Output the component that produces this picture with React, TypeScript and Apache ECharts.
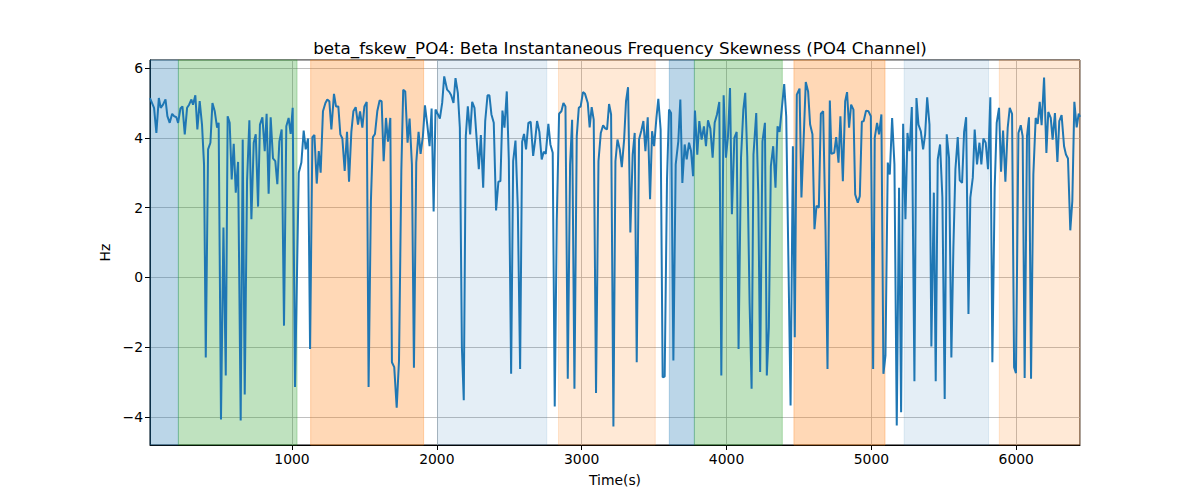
import React, { useEffect, useRef } from 'react';
import * as echarts from 'echarts';

// time axis (s) and beta fskew values (Hz)
const timeS = [
  20, 48, 64, 81, 94, 110, 127, 140, 156, 173, 186, 202, 214, 230, 244, 260, 276, 290, 306, 317,
  333, 347, 363, 379, 393, 405, 421, 437, 451, 467, 483, 494, 510, 527, 543, 556, 570, 584, 598, 612,
  628, 646, 660, 674, 690, 706, 720, 736, 750, 766, 779, 796, 812, 825, 839, 853, 869, 885, 899, 913,
  929, 945, 961, 977, 991, 1005, 1021, 1047, 1065, 1081, 1095, 1111, 1125, 1141, 1155, 1171, 1185, 1198, 1214, 1231,
  1244, 1258, 1272, 1290, 1304, 1320, 1334, 1348, 1364, 1380, 1394, 1410, 1424, 1440, 1456, 1470, 1486, 1500, 1516, 1529,
  1545, 1559, 1573, 1589, 1605, 1619, 1633, 1649, 1663, 1679, 1690, 1706, 1723, 1739, 1755, 1768, 1782, 1798, 1812, 1828,
  1842, 1858, 1874, 1888, 1904, 1918, 1934, 1950, 1964, 1978, 1991, 2008, 2021, 2037, 2051, 2071, 2087, 2099, 2115, 2129,
  2145, 2159, 2173, 2186, 2200, 2214, 2230, 2244, 2260, 2276, 2290, 2304, 2320, 2334, 2350, 2363, 2377, 2393, 2409, 2425,
  2439, 2453, 2467, 2483, 2497, 2513, 2527, 2543, 2559, 2575, 2589, 2602, 2616, 2632, 2648, 2665, 2678, 2692, 2708, 2724,
  2738, 2752, 2770, 2784, 2800, 2814, 2828, 2844, 2860, 2874, 2888, 2904, 2920, 2934, 2950, 2966, 2980, 2993, 3009, 3023,
  3042, 3055, 3069, 3083, 3099, 3116, 3132, 3148, 3162, 3175, 3189, 3203, 3219, 3233, 3247, 3263, 3277, 3293, 3306, 3320,
  3336, 3352, 3366, 3380, 3396, 3412, 3426, 3440, 3456, 3472, 3486, 3500, 3516, 3529, 3545, 3559, 3573, 3589, 3603, 3617,
  3633, 3649, 3667, 3681, 3695, 3711, 3725, 3741, 3755, 3769, 3782, 3798, 3812, 3828, 3844, 3858, 3872, 3888, 3904, 3918,
  3934, 3950, 3964, 3980, 3996, 4010, 4024, 4037, 4054, 4070, 4083, 4100, 4116, 4129, 4143, 4159, 4173, 4186, 4205, 4219,
  4232, 4248, 4265, 4278, 4292, 4306, 4322, 4338, 4352, 4366, 4382, 4398, 4412, 4425, 4442, 4458, 4471, 4485, 4504, 4517,
  4531, 4547, 4563, 4577, 4593, 4607, 4621, 4637, 4651, 4667, 4683, 4697, 4713, 4724, 4743, 4757, 4773, 4786, 4803, 4819,
  4832, 4846, 4860, 4876, 4888, 4906, 4920, 4934, 4947, 4963, 4980, 4996, 5012, 5023, 5039, 5053, 5069, 5083, 5097, 5113,
  5127, 5143, 5159, 5175, 5191, 5205, 5219, 5235, 5249, 5263, 5279, 5297, 5311, 5325, 5341, 5357, 5371, 5385, 5401, 5414,
  5431, 5444, 5458, 5474, 5490, 5506, 5520, 5536, 5552, 5566, 5580, 5596, 5610, 5626, 5640, 5654, 5670, 5683, 5700, 5713,
  5729, 5746, 5759, 5773, 5789, 5805, 5821, 5835, 5851, 5865, 5881, 5895, 5909, 5925, 5941, 5955, 5971, 5985, 5998, 6015,
  6031, 6044, 6058, 6074, 6088, 6102, 6118, 6134, 6148, 6162, 6175, 6192, 6208, 6221, 6238, 6251, 6267, 6284, 6297, 6313,
  6330, 6343, 6357, 6373, 6387, 6401, 6417, 6431, 6440,
];

const skewHz = [
  5.14, 4.86, 4.14, 5.14, 4.86, 4.95, 5.1, 4.62, 4.43, 4.69, 4.62, 4.59, 4.43, 4.84, 4.9, 4.1, 4.86, 4.95, 5.1, 4.95,
  5.22, 4.24, 5.05, 4.38, 3.24, -2.29, 3.67, 3.86, 5.0, 4.76, 4.29, 4.43, -4.07, 1.43, -2.81, 4.62, 4.43, 2.81, 3.83, 2.43,
  3.31, -4.1, 3.95, -3.35, 2.76, 4.5, 1.67, 3.86, 4.1, 2.03, 4.38, 4.59, 3.62, 4.69, 2.4, 4.59, 3.41, 3.33, 2.67, 3.9,
  4.24, -1.38, 4.33, 4.57, 4.11, 4.86, -3.14, 3.0, 3.29, 4.21, 3.67, 3.98, -2.05, 4.02, 4.08, 2.69, 3.62, 3.0, 4.76, 5.0,
  5.1, 5.05, 4.24, 5.26, 4.9, 4.9, 4.1, 3.98, 3.05, 4.17, 2.74, 4.17, 4.76, 4.88, 4.38, 4.76, 4.29, 4.9, 5.03, -3.14,
  2.19, 4.02, 4.11, 4.76, 5.07, 5.05, 3.33, 4.57, 3.89, 4.57, -2.43, -2.57, -3.73, -2.38, 3.05, 5.38, 5.33, 3.86, 4.55, 3.24,
  -2.59, 3.29, 4.17, 3.54, 4.05, 4.93, 4.38, 3.76, 4.84, 1.89, 4.81, 4.67, 4.55, 5.0, 5.76, 5.38, 5.31, 5.22, 5.0, 5.71,
  5.29, 4.29, -2.0, -3.52, 4.05, 4.9, 4.1, 5.03, 4.86, 3.9, 3.1, 4.08, 2.57, 4.48, 5.22, 5.22, 4.67, 4.43, 1.92, 2.74,
  2.76, 4.78, 4.29, 5.33, 3.38, -2.76, 3.33, 3.92, 2.0, -2.62, 3.89, 4.11, 3.67, 4.43, 4.46, 3.48, 3.9, 4.48, 4.17, 3.38,
  3.6, 3.54, 4.4, 3.81, 3.57, -3.7, 1.62, 4.69, 4.76, 5.0, 4.9, -2.9, 3.24, 4.52, -3.19, 4.05, 4.86, 4.9, 5.31, 5.26,
  5.0, 4.3, 4.88, 4.52, -3.31, 3.33, 4.14, 4.36, 4.27, 4.24, 4.97, 4.67, -4.27, 3.33, 3.95, 3.67, 3.16, 3.95, 5.05, 5.45,
  1.29, 3.52, 4.14, -2.43, 3.95, 4.21, 4.48, 3.62, 4.59, 2.24, 4.19, 3.76, 4.57, 5.12, 4.24, -2.86, -2.84, 2.81, 4.81, 4.71,
  -2.38, 3.24, 3.9, 5.1, 2.71, 3.81, 3.38, 3.86, 3.62, 2.9, 4.78, 3.52, 4.48, 3.95, 4.33, 3.76, 4.5, 4.27, 3.43, 4.43,
  4.67, 5.03, -2.81, 5.22, 3.43, 4.05, 5.43, 1.81, 4.0, 4.17, -2.05, 3.43, 4.81, 5.29, 3.48, -0.71, -3.19, 3.52, 4.71, 2.38,
  -2.71, 3.9, 4.43, -2.81, -1.43, 3.19, 3.76, 2.57, 4.33, 4.17, 4.86, 5.54, 4.62, 1.05, -3.67, 3.76, -1.71, 5.24, 5.41, 2.29,
  3.81, 5.6, 5.33, 4.38, 4.1, 1.38, 2.05, 2.0, 4.69, 4.76, 1.43, -2.62, 5.07, 3.54, 3.57, 4.02, 3.29, 4.62, 2.76, 5.05,
  5.31, 4.29, 4.95, 4.81, 2.38, 2.14, 2.33, 4.46, 4.48, 4.78, 4.76, 4.62, -2.62, 4.0, 4.43, 4.1, 4.67, -2.76, -2.24, 3.29,
  2.95, 4.57, 3.24, -4.24, 2.57, -3.86, 4.4, 1.67, 4.14, 3.62, 4.88, -2.97, 5.14, 4.38, 4.19, 3.67, 4.1, 5.16, 4.38, -1.98,
  2.43, -2.97, 3.38, 3.81, 2.29, -3.48, 4.1, 3.43, -2.29, 0.86, 3.1, 4.02, 2.78, 2.71, 4.17, 4.59, -1.05, 2.29, 2.86, 4.24,
  3.24, 3.86, 3.24, 3.98, 3.86, 3.1, 5.16, -2.43, 2.57, 4.43, 4.86, 3.03, 4.21, 2.74, 4.29, 4.86, 4.69, -2.57, -2.74, 4.14,
  4.36, 4.05, -2.88, 4.05, 4.59, -2.9, 2.95, 4.57, 4.4, 5.03, 4.36, 5.73, 3.57, 4.74, 4.57, 3.95, 4.71, 3.31, 4.48, 4.65,
  3.76, 3.52, 3.41, 1.35, 2.19, 5.03, 4.3, 4.69, 4.6,
];

// shaded segments
const spanStart = [20, 216, 1129, 2005, 2840, 3605, 3778, 4465, 5226, 5883];
const spanEnd = [216, 1035, 1909, 2759, 3508, 3778, 4385, 5094, 5809, 6440];
const spanColor = [
  'rgba(31,119,180,0.3)',
  'rgba(44,160,44,0.3)',
  'rgba(255,127,14,0.3)',
  'rgba(31,119,180,0.12)',
  'rgba(255,127,14,0.17)',
  'rgba(31,119,180,0.3)',
  'rgba(44,160,44,0.3)',
  'rgba(255,127,14,0.3)',
  'rgba(31,119,180,0.12)',
  'rgba(255,127,14,0.17)',
];

const X_MIN = 20;
const X_MAX = 6440;
const Y_MIN = -4.8;
const Y_MAX = 6.23;

const FONT = 'DejaVu Sans';

const fmtTick = (v: number, step: number) => {
  if (Math.abs(v / step - Math.round(v / step)) > 1e-6) return '';
  const n = Math.round(v);
  return n < 0 ? '\u2212' + Math.abs(n) : String(n);
};

export default function App() {
  const chartRef = useRef<HTMLDivElement>(null);

  useEffect(() => {
    if (!chartRef.current) return;
    const chart = echarts.init(chartRef.current, undefined, { renderer: 'svg' });

    const lineData = timeS.map((t, i) => [t, skewHz[i]]);
    const areas = spanStart.map((s, i) => [
      { xAxis: s, itemStyle: { color: spanColor[i], borderColor: spanColor[i], borderWidth: 1 } },
      { xAxis: spanEnd[i] },
    ]);

    const option: echarts.EChartsOption = {
      animation: false,
      backgroundColor: '#fff',
      title: {
        text: 'beta_fskew_PO4: Beta Instantaneous Frequency Skewness (PO4 Channel)',
        left: 615,
        textAlign: 'center',
        top: 34,
        textStyle: { fontFamily: FONT, fontSize: 16.7, fontWeight: 'normal', color: '#000' },
      },
      grid: {
        left: 150,
        right: 120,
        top: 60,
        bottom: 55,
        show: true,
        borderColor: '#000',
        borderWidth: 1,
        backgroundColor: 'transparent',
      },
      xAxis: {
        type: 'value',
        min: X_MIN,
        max: X_MAX,
        name: 'Time(s)',
        nameLocation: 'middle',
        nameGap: 28,
        nameTextStyle: { fontFamily: FONT, fontSize: 13.9, color: '#000' },
        axisLine: { show: true, onZero: false, lineStyle: { color: '#000', width: 1 } },
        axisTick: { show: true, inside: false, length: 5, lineStyle: { color: '#000' } },
        axisLabel: {
          fontFamily: FONT,
          fontSize: 13.9,
          color: '#000',
          margin: 7,
          showMinLabel: false,
          showMaxLabel: false,
          formatter: (v: number) => fmtTick(v, 1000),
        },
        splitLine: { show: true, lineStyle: { color: '#b0b0b0', width: 0.8 } },
      },
      yAxis: {
        type: 'value',
        min: Y_MIN,
        max: Y_MAX,
        name: 'Hz',
        nameLocation: 'middle',
        nameGap: 36,
        nameRotate: 90,
        nameTextStyle: { fontFamily: FONT, fontSize: 13.9, color: '#000' },
        axisLine: { show: true, onZero: false, lineStyle: { color: '#000', width: 1 } },
        axisTick: { show: true, inside: false, length: 5, lineStyle: { color: '#000' } },
        axisLabel: {
          fontFamily: FONT,
          fontSize: 13.9,
          color: '#000',
          margin: 7,
          showMinLabel: false,
          showMaxLabel: false,
          formatter: (v: number) => fmtTick(v, 2),
        },
        splitLine: { show: true, lineStyle: { color: '#b0b0b0', width: 0.8 } },
      },
      series: [
        {
          type: 'line',
          data: lineData,
          showSymbol: false,
          symbol: 'none',
          lineStyle: { color: '#1f77b4', width: 2 },
          z: 3,
          markArea: {
            silent: true,
            data: areas as any,
          },
        },
      ],
    };

    chart.setOption(option);

    return () => {
      chart.dispose();
    };
  }, []);

  return (
    <div
      ref={chartRef}
      style={{ position: 'absolute', left: 0, top: 0, width: '1200px', height: '500px' }}
    />
  );
}
